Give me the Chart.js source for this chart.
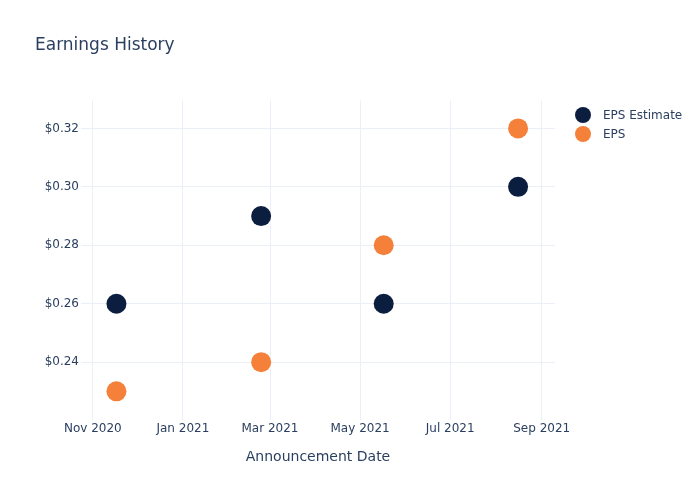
<!DOCTYPE html>
<html>
<head>
<meta charset="utf-8">
<script src="https://cdn.jsdelivr.net/npm/chart.js@4/dist/chart.umd.min.js"></script>
<style>
    html, body { margin: 0; padding: 0; background: #fff; }
    #wrap { width: 700px; height: 500px; }
</style>
</head>
<body>
<div id="wrap"><canvas id="epsChart" width="700" height="500"></canvas></div>
<script>
// Announcement dates and values
const announceDates = ['2020-11-17', '2021-02-23', '2021-05-17', '2021-08-16'];
const epsEstimate = [0.26, 0.29, 0.26, 0.30];
const epsActual = [0.23, 0.24, 0.28, 0.32];

// Axis ticks
const xTickDates = ['2020-11-01', '2021-01-01', '2021-03-01', '2021-05-01', '2021-07-01', '2021-09-01'];
const xTickLabels = ['Nov 2020', 'Jan 2021', 'Mar 2021', 'May 2021', 'Jul 2021', 'Sep 2021'];
const xRange = ['2020-10-24', '2021-09-10'];
const yTicks = [0.24, 0.26, 0.28, 0.30, 0.32];
const yRange = [0.2202, 0.3296];

const seriesNames = ['EPS Estimate', 'EPS'];
const seriesColors = ['#0b1e40', '#f5803a'];

const textColor = '#2a3f5f';
const gridColor = '#ebf0f8';
const fontFamily = "'DejaVu Sans', Verdana, sans-serif";

// Build points for a series
function toPoints(values) {
    return values.map((v, i) => ({ x: Date.parse(announceDates[i]), y: v }));
}

// Legend on the right, drawn like the plotly one
const sideLegend = {
    id: 'sideLegend',
    afterDraw(chart) {
        const ctx = chart.ctx;
        ctx.save();
        ctx.font = '12px ' + fontFamily;
        ctx.textBaseline = 'middle';
        ctx.textAlign = 'left';
        chart.data.datasets.forEach((ds, i) => {
            const y = 115 + i * 19;
            ctx.beginPath();
            ctx.arc(583, y, 8, 0, Math.PI * 2);
            ctx.fillStyle = ds.backgroundColor;
            ctx.fill();
            ctx.fillStyle = textColor;
            ctx.fillText(ds.label, 603, y + 1);
        });
        ctx.restore();
    }
};

function initChart() {
    let ctx = document.getElementById('epsChart').getContext('2d');
    new Chart(ctx, {
        type: 'scatter',
        data: {
            datasets: [
                {
                    label: seriesNames[0],
                    data: toPoints(epsEstimate),
                    backgroundColor: seriesColors[0],
                    borderColor: seriesColors[0],
                    pointRadius: 10,
                    pointHoverRadius: 10,
                    borderWidth: 0
                },
                {
                    label: seriesNames[1],
                    data: toPoints(epsActual),
                    backgroundColor: seriesColors[1],
                    borderColor: seriesColors[1],
                    pointRadius: 10,
                    pointHoverRadius: 10,
                    borderWidth: 0
                }
            ]
        },
        options: {
            responsive: false,
            animation: false,
            layout: { padding: { left: 35, right: 145, top: 0, bottom: 0 } },
            plugins: {
                legend: { display: false },
                tooltip: { enabled: false },
                title: {
                    display: true,
                    text: 'Earnings History',
                    align: 'start',
                    color: textColor,
                    font: { family: fontFamily, size: 17, weight: 'normal' },
                    padding: { top: 35, bottom: 45 }
                }
            },
            scales: {
                x: {
                    type: 'linear',
                    min: Date.parse(xRange[0]),
                    max: Date.parse(xRange[1]),
                    afterBuildTicks: (axis) => {
                        axis.ticks = xTickDates.map(d => ({ value: Date.parse(d) }));
                    },
                    afterFit: (axis) => { axis.height = 80; },
                    ticks: {
                        color: textColor,
                        font: { family: fontFamily, size: 12 },
                        padding: 2,
                        maxRotation: 0,
                        autoSkip: false,
                        callback: (value) => {
                            let idx = xTickDates.findIndex(d => Date.parse(d) === value);
                            return idx === -1 ? '' : xTickLabels[idx];
                        }
                    },
                    grid: { color: gridColor, drawTicks: false },
                    border: { display: false },
                    title: {
                        display: true,
                        text: 'Announcement Date',
                        color: textColor,
                        font: { family: fontFamily, size: 14 },
                        padding: { top: 4, bottom: 34 }
                    }
                },
                y: {
                    min: yRange[0],
                    max: yRange[1],
                    afterBuildTicks: (axis) => {
                        axis.ticks = yTicks.map(v => ({ value: v }));
                    },
                    afterFit: (axis) => { axis.width = 46; },
                    ticks: {
                        color: textColor,
                        font: { family: fontFamily, size: 12 },
                        padding: 2,
                        callback: (value) => '$' + Number(value).toFixed(2)
                    },
                    grid: { color: gridColor, drawTicks: false },
                    border: { display: false }
                }
            }
        },
        plugins: [sideLegend]
    });
}

window.onload = initChart;
</script>
</body>
</html>
